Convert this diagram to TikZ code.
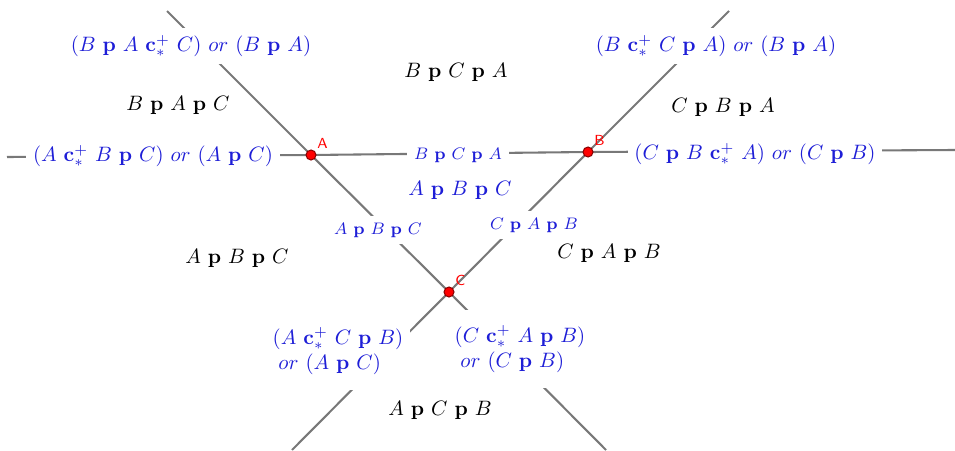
\documentclass[tikz,border=0pt]{standalone}
\definecolor{lblue}{RGB}{30,30,215}
\definecolor{lgray}{RGB}{120,120,120}
\begin{document}
\begin{tikzpicture}[x=0.48pt,y=-0.48pt,every node/.style={inner sep=3.3pt}]
\tikzstyle{ray}=[draw=lgray,line width=1pt]
\tikzstyle{cut}=[fill=white,text=lblue]
\tikzstyle{small}=[cut,font=\footnotesize]
\tikzstyle{twoline}=[cut,align=left,minimum height=37pt]
\tikzstyle{pt}=[circle,fill=red,draw=red!55!black,line width=0.5pt,inner sep=0pt,minimum size=4.8pt]
\tikzstyle{ptlabel}=[text=red,font=\sffamily\scriptsize,inner sep=1pt]
\useasboundingbox (0,0) rectangle (955,450);

\coordinate (a) at (311,155);
\coordinate (b) at (588,152);
\coordinate (c) at (449,292);
\coordinate (u1) at (167,11);
\coordinate (v1) at (606,450);
\coordinate (u2) at (729,11);
\coordinate (v2) at (292,450);
\coordinate (u3) at (7,157);
\coordinate (v3) at (955,150);

\draw[ray] (u1) -- (a) -- (c) -- (v1);
\draw[ray] (u2) -- (b) -- (c) -- (v2);
\draw[ray] (u3) -- (a) -- (b) -- (v3);

\node[cut](n01) at (191,46){$(B~\mathbf{p}~A~\mathbf{c}^+_*~C)~or~(B~\mathbf{p}~A)$};
\node(n02) at (178,105){$B~\mathbf{p}~A~\mathbf{p}~C$};
\node(n03) at (456,72){$B~\mathbf{p}~C~\mathbf{p}~A$};
\node[cut](n04) at (153,156){$(A~\mathbf{c}^+_*~B~\mathbf{p}~C)~or~(A~\mathbf{p}~C)$};
\node[small](n05) at (458,155){$B~\mathbf{p}~C~\mathbf{p}~A$};
\node[cut](n06) at (460,190){$A~\mathbf{p}~B~\mathbf{p}~C$};

\node[cut](n07) at (716,46){$(B~\mathbf{c}^+_*~C~\mathbf{p}~A)~or~(B~\mathbf{p}~A)$};
\node(n08) at (723,107){$C~\mathbf{p}~B~\mathbf{p}~A$};
\node[cut](n09) at (755,154){$(C~\mathbf{p}~B~\mathbf{c}^+_*~A)~or~(C~\mathbf{p}~B)$};

\node[small](n10) at (378,230){$A~\mathbf{p}~B~\mathbf{p}~C$};
\node[small](n11) at (534,225){$C~\mathbf{p}~A~\mathbf{p}~B$};
\node(n12) at (237,258){$A~\mathbf{p}~B~\mathbf{p}~C$};
\node(n13) at (609,253){$C~\mathbf{p}~A~\mathbf{p}~B$};

\node[twoline](n14) at (338,351){$(A~\mathbf{c}^+_*~C~\mathbf{p}~B)$\\$\;or~(A~\mathbf{p}~C)$};
\node[twoline](n15) at (520,349){$(C~\mathbf{c}^+_*~A~\mathbf{p}~B)$\\$\;or~(C~\mathbf{p}~B)$};
\node(n16) at (440,410){$A~\mathbf{p}~C~\mathbf{p}~B$};

\node[pt,label={[ptlabel]above right:A}](pa) at (a){};
\node[pt,label={[ptlabel]above right:B}](pb) at (b){};
\node[pt,label={[ptlabel]above right:C}](pc) at (c){};
\end{tikzpicture}
\end{document}
